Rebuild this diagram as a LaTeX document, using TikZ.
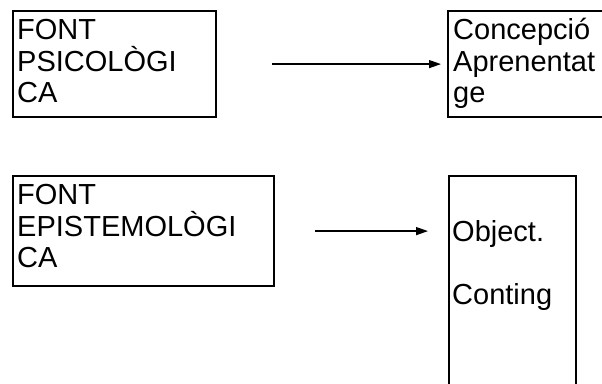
\documentclass[tikz,border=0pt]{standalone}
\usepackage{fontspec}
\setmainfont{Liberation Sans}
\usetikzlibrary{arrows.meta}
\newcommand\boxlines[1]{\vtop{\baselineskip=31.5pt\lineskiplimit=-100pt\halign{##\hfil\cr#1\crcr}}}
\begin{document}
\begin{tikzpicture}[x=1pt,y=-1pt,
  frame/.style={draw, line width=2.2pt, inner sep=0pt, anchor=north west},
  txt/.style={anchor=base west, inner sep=0pt, font=\fontsize{29}{31.5}\selectfont},
  link/.style={line width=1.3pt, -{Triangle[length=12pt,width=8pt]}}]
\clip (0,0) rectangle (602,383);
\node[frame, minimum width=203pt, minimum height=106pt] (b1) at (12,10) {};
\node[frame, minimum width=170pt, minimum height=106pt] (b2) at (447,10) {};
\node[frame, minimum width=261pt, minimum height=110pt] (b3) at (12,175) {};
\node[frame, minimum width=127pt, minimum height=240pt] (b4) at (448,175) {};
\node[txt] (t1) at (17,39.5) {\boxlines{FONT\cr PSICOLÒGI\cr CA}};
\node[txt] (t2) at (453,39.5) {\boxlines{Concepció\cr Aprenentat\cr ge}};
\node[txt] (t3) at (17,204.5) {\boxlines{FONT\cr EPISTEMOLÒGI\cr CA}};
\node[txt] (t4) at (452,241.5) {\boxlines{Object.\cr\cr Conting}};
\draw[link, shorten <=55pt, shorten >=6pt] (b1.east) -- (b2.west);
\draw[link, shorten <=40pt, shorten >=20pt] (b3.east) -- (b3.east -| b4.west);
\end{tikzpicture}
\end{document}
